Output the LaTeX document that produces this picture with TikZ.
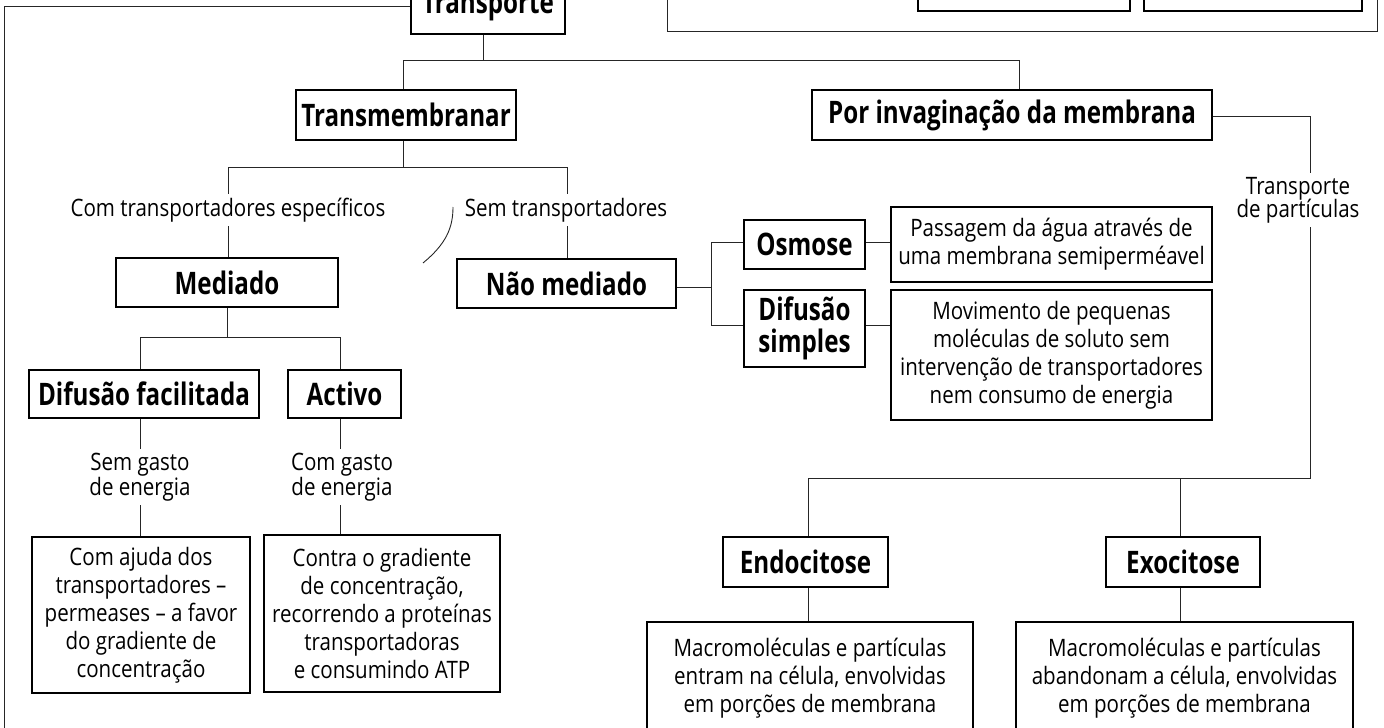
\documentclass[tikz,border=0pt]{standalone}
\usepackage{fontspec}
\setmainfont{Open Sans}
\newfontfamily\plainfont{Open Sans}[FakeStretch=0.855]
\newfontfamily\headfont{Open Sans}[FakeStretch=0.78]
\begin{document}
\begin{tikzpicture}[x=1pt,y=-1pt,
  box/.style={draw=black, line width=1.3pt, rectangle, inner sep=0pt, align=center, text=black},
  head/.style={box, font=\headfont\bfseries\fontsize{31}{32}\selectfont},
  desc/.style={box, font=\plainfont\fontsize{24}{28}\selectfont},
  lbl/.style={align=center, inner sep=4pt, font=\plainfont\fontsize{24}{25}\selectfont},
  link/.style={draw=black!85, line width=0.9pt},
]
\useasboundingbox (0,0) rectangle (1384,728);
\clip (0,0) rectangle (1384,728);

% ---- top row
\node[head, minimum width=154pt, minimum height=56pt] (transp) at (488,6) {Transporte};
\node[box, minimum width=212pt, minimum height=40pt] (topa) at (1024,-9) {};
\node[box, minimum width=218pt, minimum height=40pt] (topb) at (1253,-9) {};

% ---- second row
\node[head, minimum width=220pt, minimum height=50pt] (tm) at (406,115) {Transmembranar};
\node[head, minimum width=400pt, minimum height=50pt] (inv) at (1012,115) {Por invaginação da membrana};
\node[lbl] (tpart) at (1298,200) {Transporte\\[-2pt]de partículas};

% ---- labels under Transmembranar
\node[lbl] (comlbl) at (228,210) {Com transportadores específicos};
\node[lbl] (semlbl) at (566,210) {Sem transportadores};

\node[head, minimum width=222pt, minimum height=49pt] (med) at (227,282.5) {Mediado};
\node[head, minimum width=219pt, minimum height=49pt] (nmed) at (566.5,283.5) {Não mediado};

% ---- diffusion branch
\node[head, minimum width=121pt, minimum height=49pt] (osm) at (804.5,244.5) {Osmose};
\node[head, minimum width=121pt, minimum height=77pt] (dsim) at (804.5,328.5) {Difusão\\simples};
\node[desc, minimum width=321pt, minimum height=75pt] (pass) at (1051.5,244.5)
  {Passagem da água através de\\uma membrana semiperméavel};
\node[desc, minimum width=321pt, minimum height=130pt] (mov) at (1051.5,355)
  {Movimento de pequenas\\moléculas de soluto sem\\intervenção de transportadores\\nem consumo de energia};

% ---- mediated branch
\node[head, minimum width=230pt, minimum height=48pt] (dfac) at (144,394) {Difusão facilitada};
\node[head, minimum width=113pt, minimum height=48pt] (act) at (344.5,394) {Activo};
\node[lbl] (semg) at (140,477) {Sem gasto\\de energia};
\node[lbl] (comg) at (342,477) {Com gasto\\de energia};
\node[desc, minimum width=218pt, minimum height=156pt] (ajuda) at (141,615)
  {Com ajuda dos\\transportadores –\\permeases – a favor\\do gradiente de\\concentração};
\node[desc, minimum width=236pt, minimum height=157pt] (contra) at (382,613.5)
  {Contra o gradiente\\de concentração,\\recorrendo a proteínas\\transportadoras\\e consumindo ATP};

% ---- endo / exocytosis
\node[head, minimum width=165pt, minimum height=50pt] (endo) at (805.5,562) {Endocitose};
\node[head, minimum width=154pt, minimum height=50pt] (exo) at (1183,562) {Exocitose};
\node[desc, minimum width=326pt, minimum height=112pt] (macroa) at (810,678)
  {Macromoléculas e partículas\\entram na célula, envolvidas\\em porções de membrana};
\node[desc, minimum width=337pt, minimum height=112pt] (macrob) at (1184.5,678)
  {Macromoléculas e partículas\\abandonam a célula, envolvidas\\em porções de membrana};

% ---- frame lines
\coordinate (fr1) at (4,6);
\coordinate (fr2) at (4,740);
\draw[link] (transp.west |- fr1) -- (fr1) -- (fr2);
\coordinate (fr3) at (667,-5);
\coordinate (fr4) at (667,31);
\coordinate (fr5) at (1377,31);
\coordinate (fr6) at (1377,-5);
\draw[link] (fr3) -- (fr4) -- (fr5) -- (fr6);

% ---- connectors
\coordinate (j1) at (483,60);
\coordinate (j1l) at (403,60);
\coordinate (j1r) at (1019,60);
\draw[link] (transp.south -| j1) -- (j1);
\draw[link] (tm.north -| j1l) -- (j1l) -- (j1r) -- (inv.north -| j1r);

\coordinate (j2) at (403,167);
\coordinate (j2l) at (228,167);
\coordinate (j2r) at (567,167);
\draw[link] (tm.south -| j2) -- (j2);
\draw[link] (comlbl.north -| j2l) -- (j2l) -- (j2r) -- (semlbl.north -| j2r);
\draw[link] (comlbl.south -| j2l) -- (med.north -| j2l);
\draw[link] (semlbl.south -| j2r) -- (nmed.north -| j2r);

\coordinate (arcs) at (423,263);
\coordinate (arce) at (453,207);
\draw[link] (arcs) .. controls (446,244) and (453,228) .. (arce);

\coordinate (j3) at (227,337);
\coordinate (j3l) at (140,337);
\coordinate (j3r) at (340,337);
\draw[link] (med.south -| j3) -- (j3);
\draw[link] (dfac.north -| j3l) -- (j3l) -- (j3r) -- (act.north -| j3r);
\draw[link] (dfac.south -| j3l) -- (semg.north -| j3l);
\draw[link] (semg.south -| j3l) -- (ajuda.north -| j3l);
\draw[link] (act.south -| j3r) -- (comg.north -| j3r);
\draw[link] (comg.south -| j3r) -- (contra.north -| j3r);

\coordinate (j4) at (711,287);
\coordinate (j4t) at (711,242);
\coordinate (j4b) at (711,325);
\draw[link] (nmed.east |- j4) -- (j4);
\draw[link] (osm.west |- j4t) -- (j4t) -- (j4b) -- (dsim.west |- j4b);
\draw[link] (osm.east |- j4t) -- (pass.west |- j4t);
\draw[link] (dsim.east |- j4b) -- (mov.west |- j4b);

\coordinate (j5) at (1310,116);
\coordinate (j6) at (1310,478);
\coordinate (j6l) at (808,478);
\coordinate (j6m) at (1180,478);
\draw[link] (inv.east |- j5) -- (j5) -- (j5 |- tpart.north);
\draw[link] (j5 |- tpart.south) -- (j6) -- (j6l) -- (endo.north -| j6l);
\draw[link] (j6m) -- (exo.north -| j6m);
\draw[link] (endo.south -| j6l) -- (macroa.north -| j6l);
\draw[link] (exo.south -| j6m) -- (macrob.north -| j6m);
\end{tikzpicture}
\end{document}
